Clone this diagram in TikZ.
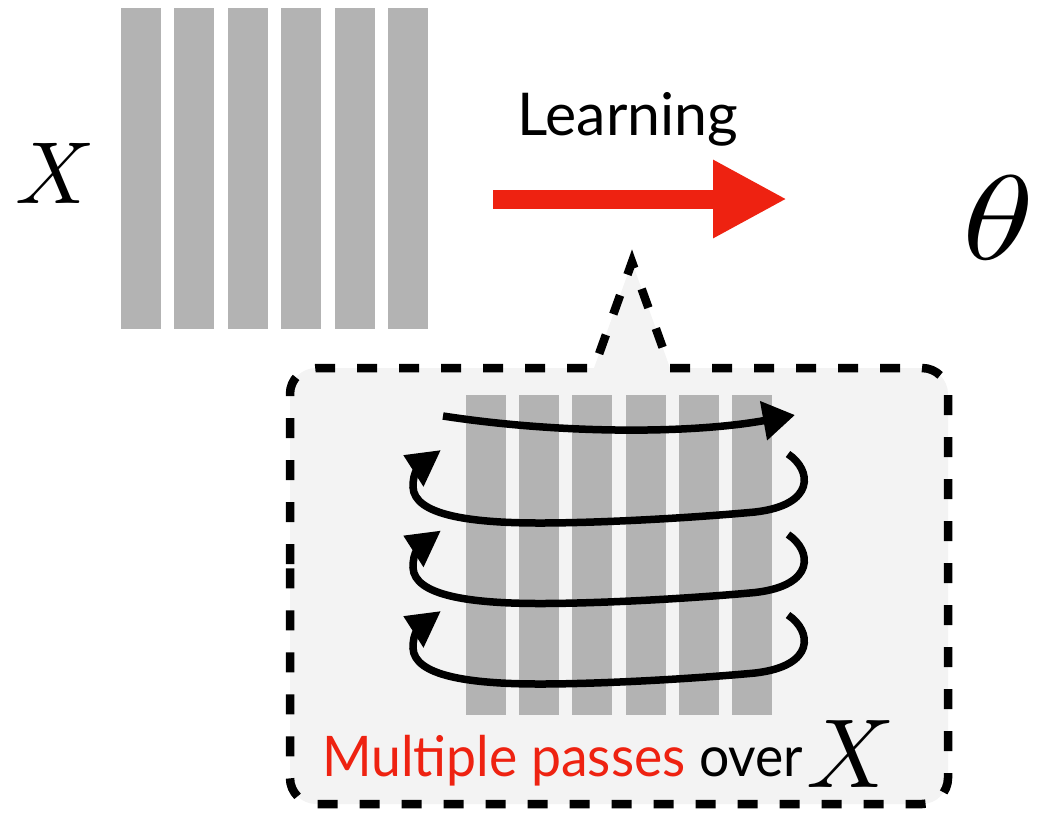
\documentclass[tikz,border=0pt]{standalone}
\usepackage{graphicx}
\usepackage{fontspec}
\setmainfont{Lato}
\usepackage{tikz}
\usetikzlibrary{arrows.meta,positioning}
\definecolor{barfill}{HTML}{B3B3B3}
\definecolor{learnred}{HTML}{EE2211}
\definecolor{bubble}{HTML}{F3F3F3}

\begin{document}
\begin{tikzpicture}[
  x=1pt, y=-1pt,
  bar/.style={fill=barfill, draw=none, minimum width=40pt, inner sep=0pt, outer sep=0pt, anchor=north west},
  topbar/.style={bar, minimum height=321pt},
  passbar/.style={bar, minimum height=320pt},
  callout/.style={draw=black, fill=bubble, line width=8.5pt, dash pattern=on 20pt off 22pt},
  pass/.style={line width=7.5pt, -{Triangle[length=32pt, width=38pt]}},
  learnarrow/.style={draw=learnred, line width=19pt, -{Triangle[length=74pt, width=73pt]}},
  bigtext/.style={font=\fontsize{59}{60}\selectfont, inner sep=0pt, anchor=base},
  mathtext/.style={inner sep=0pt, anchor=base}
]
\useasboundingbox (0,0) rectangle (1040,820);

% data columns
\foreach \i in {0,...,5}
  \node[topbar] (xbar\i) at ({121+53.4*\i},8) {};
\node[mathtext] (xlabel) at (55,203) {\scalebox{8.8}{$X$}};

% learning step
\coordinate (learnfrom) at (493,199);
\coordinate (learnto) at (787,199);
\draw[learnarrow] (learnfrom) -- (learnto);
\node[bigtext] (learn) at (628,135) {Learning};
\node[mathtext] (theta) at (999,259) {\scalebox{14.5}[12]{$\theta$}};

% callout
\draw[callout] (290,590) [rounded corners=26pt] -- (290,368) -- (450,368) [sharp corners] -- (594,368)
  -- (632,262) -- (670,368) -- (760,368) [rounded corners=26pt] -- (948,368) -- (948,804) -- (290,804) -- cycle;
\foreach \i in {0,...,5}
  \node[passbar] (pbar\i) at ({466+53.2*\i},395) {};
\draw[pass] (443,416) .. controls (560,434) and (690,434) .. (795,415);
\foreach \dy in {0,80.5,161}
  \draw[pass, shift={(0,\dy)}] (788,454) .. controls (812,470) and (816,505) .. (755,512)
    .. controls (690,518) and (600,523) .. (540,523) .. controls (470,523) and (414,515) .. (413,487)
    .. controls (413,472) and (418,462) .. (403,455);
\node[bigtext, anchor=base west, text=learnred] (multi) at (322,776)
  {\scalebox{0.955}[1]{\fontsize{56}{58}\selectfont Multiple passes \textcolor{black}{over}}};
\node[mathtext] (overx) at (851,787) {\scalebox{9.8}{$X$}};
\end{tikzpicture}
\end{document}
